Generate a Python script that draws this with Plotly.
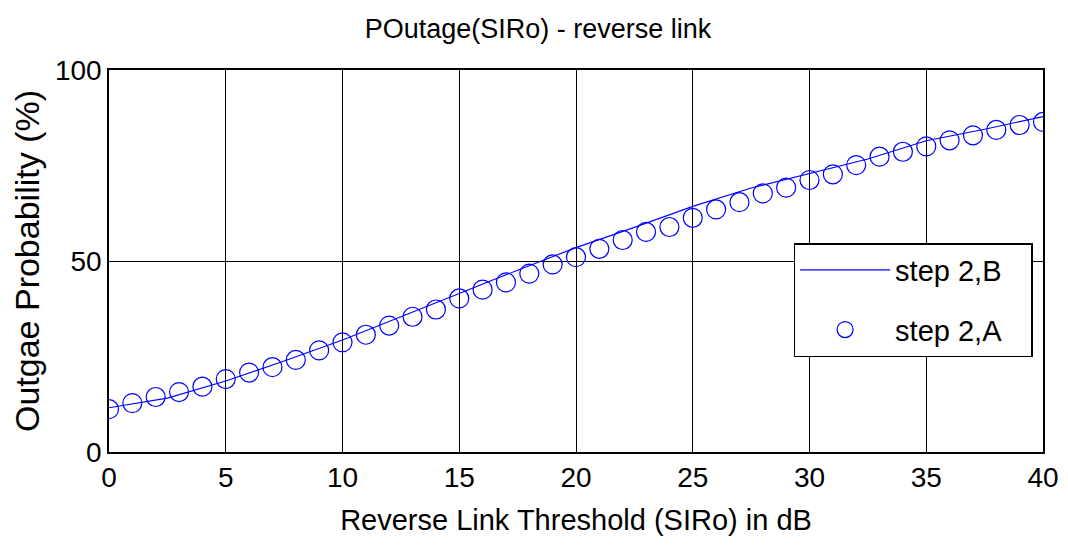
import plotly.graph_objects as go

# Data
x_markers = list(range(0, 41))
step2_A = [11.2, 12.8, 14.4, 15.7, 17.1, 19.1, 20.8, 22.2, 24.1, 26.6,
           28.7, 30.7, 33.1, 35.4, 37.3, 40.2, 42.5, 44.4, 46.7, 49.1,
           51.0, 53.2, 55.5, 57.6, 58.9, 61.3, 63.5, 65.4, 67.7, 69.2,
           71.2, 72.7, 75.1, 77.3, 78.6, 80.0, 81.6, 82.9, 84.3, 85.6, 86.4]

x_line = [0, 2.5, 5, 7.5, 10, 12.5, 15, 17.5, 20, 22.5, 25, 27.5, 30, 32.5, 35, 37.5, 40]
step2_B = [11.6, 14.1, 18.6, 23.8, 29.3, 35.3, 41.5, 47.6, 53.5, 58.8,
           64.3, 69.1, 72.9, 76.7, 81.5, 84.5, 87.8]

x_ticks = [0, 5, 10, 15, 20, 25, 30, 35, 40]
y_ticks = [0, 50, 100]

FONT = "Liberation Sans, Arial, sans-serif"

fig = go.Figure()
fig.add_trace(go.Scatter(
    x=x_line, y=step2_B, mode="lines", name="step 2,B\u00a0\u00a0\u00a0",
    legendgroup="b",
    line=dict(color="#0000FF", width=1.1)))
fig.add_trace(go.Scatter(
    x=x_markers, y=step2_A, mode="markers", name="step 2,A\u00a0\u00a0\u00a0",
    legendgroup="a",
    marker=dict(symbol="circle-open", size=19, color="#0000FF",
                line=dict(width=1.2, color="#0000FF"))))

axis_common = dict(
    showgrid=True, gridcolor="black", gridwidth=1,
    showline=True, linecolor="black", linewidth=1.5, mirror=True,
    ticks="inside", ticklen=6, tickcolor="black",
    zeroline=False, automargin=False,
    tickfont=dict(family=FONT, size=28, color="black"),
)

fig.update_layout(
    width=1060, height=538,
    paper_bgcolor="white", plot_bgcolor="white",
    margin=dict(l=101, r=25, t=62, b=94),
    title=dict(text="POutage(SIRo) - reverse link", x=0.5, xanchor="center",
               y=0.961, yanchor="middle",
               font=dict(family=FONT, size=27, color="black")),
    xaxis=dict(range=[0, 40], tickvals=x_ticks, ticktext=[str(v) for v in x_ticks],
               title=dict(text="Reverse Link Threshold (SIRo) in dB",
                          font=dict(family=FONT, size=29, color="black"), standoff=17),
               **axis_common),
    yaxis=dict(range=[0, 100], tickvals=y_ticks, ticktext=[str(v) for v in y_ticks],
               title=dict(text="Outgae Probability (%)",
                          font=dict(family=FONT, size=34, color="black"), standoff=8),
               **axis_common),
    legend=dict(x=0.733, y=0.547, xanchor="left", yanchor="top",
                bgcolor="white", bordercolor="black", borderwidth=1.5,
                font=dict(family=FONT, size=29, color="black"),
                itemwidth=90, tracegroupgap=19, traceorder="grouped"),
    showlegend=True,
)

fig.write_html("out.html")
